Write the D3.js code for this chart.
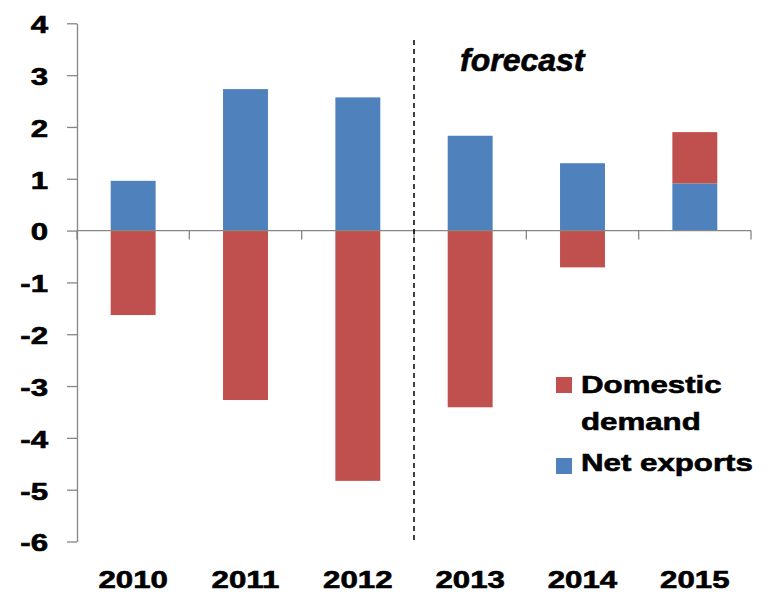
<!DOCTYPE html>
<html>
<head>
<meta charset="utf-8">
<script src="https://cdn.jsdelivr.net/npm/d3@7"></script>
<style>
  body { margin: 0; background: #fff; }
  svg { display: block; }
  text { font-family: "Liberation Sans", Arial, sans-serif; font-weight: bold; fill: #000; stroke: #000; stroke-width: 0.6px; }
</style>
</head>
<body>
<svg id="chart"></svg>
<script>
// data
var years = ["2010", "2011", "2012", "2013", "2014", "2015"];
var netExports = [0.96, 2.73, 2.57, 1.83, 1.30, 0.91];
var domesticDemand = [-1.63, -3.27, -4.83, -3.41, -0.71, 0.99];
var yTicks = [4, 3, 2, 1, 0, -1, -2, -3, -4, -5, -6];
var seriesNames = ["Net exports", "Domestic demand"];
var seriesColors = ["#4F81BD", "#C0504D"];

var W = 770, H = 596;
var sx = 1.33; // the picture's text is stretched sideways

var svg = d3.select("#chart").attr("width", W).attr("height", H);

var x = d3.scaleBand()
    .domain(years)
    .range([77, 751])
    .paddingInner(0.6)
    .paddingOuter(0.3);
var y = d3.scaleLinear()
    .domain([-6, 4])
    .range([541.5, 23.3]);

// stack the two series
var rows = years.map(function (yr, i) {
  return { year: yr, "Net exports": netExports[i], "Domestic demand": domesticDemand[i] };
});
var stacked = d3.stack()
    .keys(seriesNames)
    .offset(d3.stackOffsetDiverging)(rows);

svg.append("g").selectAll("g")
    .data(stacked)
  .enter().append("g")
    .attr("fill", function (d, i) { return seriesColors[i]; })
  .selectAll("rect")
    .data(function (d) { return d; })
  .enter().append("rect")
    .attr("x", function (d) { return x(d.data.year); })
    .attr("width", x.bandwidth())
    .attr("y", function (d) { return y(Math.max(d[0], d[1])); })
    .attr("height", function (d) { return Math.abs(y(d[0]) - y(d[1])); });

// y axis
var yAxis = svg.append("g")
    .attr("transform", "translate(77,0)")
    .call(d3.axisLeft(y).tickValues(yTicks).tickSize(10).tickSizeOuter(0)
      .tickFormat(function (d) { return String(d); }));
yAxis.selectAll("path, line").attr("stroke", "#868686").attr("stroke-width", 1.3);
yAxis.selectAll("text")
    .attr("x", -29 / sx)
    .attr("dy", "0.4em")
    .attr("transform", "scale(" + sx + ",1)")
    .style("font-size", "23.5px")
    .style("font-family", "'Liberation Sans', Arial, sans-serif")
    .style("font-weight", "bold")
    .attr("fill", "#000");

// zero line with ticks at band edges
var step = x.step();
var edges = d3.range(years.length + 1).map(function (i) { return x.range()[0] + i * step; });
var zero = svg.append("g").attr("stroke", "#868686").attr("stroke-width", 1.3);
zero.append("line")
    .attr("x1", x.range()[0]).attr("x2", x.range()[1])
    .attr("y1", y(0)).attr("y2", y(0));
zero.selectAll(".edge")
    .data(edges)
  .enter().append("line")
    .attr("class", "edge")
    .attr("x1", function (d) { return d; }).attr("x2", function (d) { return d; })
    .attr("y1", y(0)).attr("y2", y(0) + 9);

// year labels along the bottom
var xAxis = svg.append("g")
    .attr("transform", "translate(0,588)")
    .call(d3.axisBottom(x).tickSize(0));
xAxis.select(".domain").remove();
xAxis.selectAll("text")
    .attr("y", 0)
    .attr("dy", 0)
    .attr("transform", "scale(" + sx + ",1)")
    .style("font-size", "23.5px")
    .style("font-family", "'Liberation Sans', Arial, sans-serif")
    .style("font-weight", "bold")
    .attr("fill", "#000");

// forecast divider
var divX = (x("2012") + x.bandwidth() + x("2013")) / 2;
svg.append("line")
    .attr("x1", divX).attr("x2", divX)
    .attr("y1", 40).attr("y2", 543)
    .attr("stroke", "#000")
    .attr("stroke-width", 1.5)
    .attr("stroke-dasharray", "5,4");

svg.append("text")
    .attr("x", 460)
    .attr("y", 71)
    .style("font-size", "32px")
    .style("font-style", "italic")
    .text("forecast");

// legend
var legend = [
  { name: ["Domestic", "demand"], color: seriesColors[1], sq: 377, base: 393 },
  { name: ["Net exports"], color: seriesColors[0], sq: 458, base: 471 }
];
legend.forEach(function (d) {
  svg.append("rect")
      .attr("x", 556).attr("y", d.sq)
      .attr("width", 16).attr("height", 16)
      .attr("fill", d.color);
  d.name.forEach(function (line, j) {
    svg.append("text")
        .attr("transform", "translate(581," + (d.base + j * 37) + ") scale(" + sx + ",1)")
        .style("font-size", "23.5px")
        .text(line);
  });
});
</script>
</body>
</html>
